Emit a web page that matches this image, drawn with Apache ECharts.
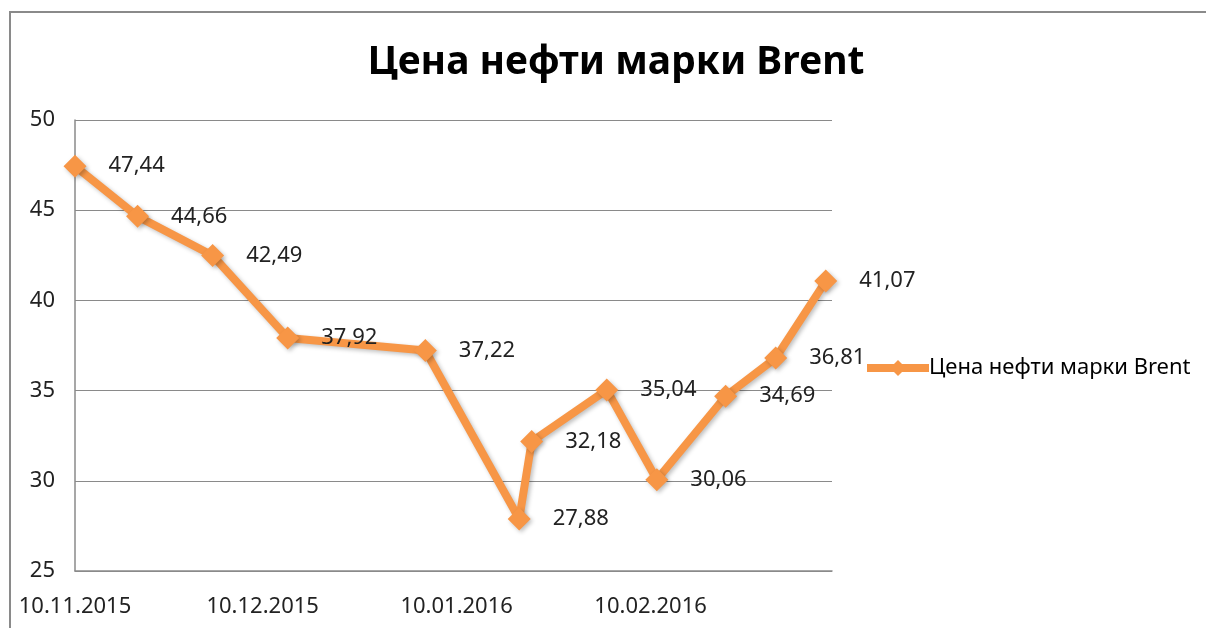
<!DOCTYPE html>
<html>
<head>
    <meta charset="utf-8">
    <title>Цена нефти марки Brent</title>
    <script src="https://cdn.jsdelivr.net/npm/echarts@6.0.0/dist/echarts.min.js"></script>
    <style>
        html, body { margin: 0; padding: 0; background: #fff; }
        #chart { width: 1206px; height: 628px; }
    </style>
</head>
<body>
    <div id="chart"></div>
    <script>
        // данные
        const seriesName = 'Цена нефти марки Brent';
        const dates = ['2015-11-10', '2015-11-20', '2015-12-02', '2015-12-14', '2016-01-05', '2016-01-20',
                       '2016-01-22', '2016-02-03', '2016-02-11', '2016-02-22', '2016-03-01', '2016-03-09'];
        const prices = [47.44, 44.66, 42.49, 37.92, 37.22, 27.88, 32.18, 35.04, 30.06, 34.69, 36.81, 41.07];
        const tickDates = ['2015-11-10', '2015-12-10', '2016-01-10', '2016-02-10'];
        const startDate = '2015-11-10';
        const endDate = '2016-03-10';

        const font = '"Noto Sans", "DejaVu Sans", sans-serif';
        const orange = '#F79646';
        const DAY = 86400000;

        // дни от начальной даты (ось — число дней)
        function utc(s) {
            return Date.UTC(+s.slice(0, 4), +s.slice(5, 7) - 1, +s.slice(8, 10));
        }
        function toDay(s) {
            return Math.round((utc(s) - utc(startDate)) / DAY);
        }
        function fmtDay(v) {
            const d = new Date(utc(startDate) + Math.round(v) * DAY);
            const p = n => (n < 10 ? '0' : '') + n;
            return p(d.getUTCDate()) + '.' + p(d.getUTCMonth() + 1) + '.' + d.getUTCFullYear();
        }

        const chart = echarts.init(document.getElementById('chart'));
        chart.setOption({
            animation: false,
            title: {
                text: 'Цена нефти марки Brent',
                left: 611, top: 38, textAlign: 'center',
                textStyle: { fontFamily: font, fontSize: 39, fontWeight: 'bold', color: '#000' }
            },
            graphic: [{
                type: 'rect',
                shape: { x: 10, y: 12, width: 1400, height: 800 },
                style: { fill: 'none', stroke: '#8a8a8a', lineWidth: 2 },
                silent: true
            }],
            legend: {
                data: [seriesName],
                left: 858, top: 352,
                itemWidth: 62, itemHeight: 20, itemGap: 0,
                lineStyle: { width: 8 },
                textStyle: { fontFamily: font, fontSize: 22, color: '#000', padding: [0, 0, 0, -5] }
            },
            grid: { left: 75, right: 374, top: 120, bottom: 57 },
            xAxis: {
                type: 'value',
                min: 0,
                max: toDay(endDate),
                axisLine: { show: true, lineStyle: { color: '#8a8a8a', width: 1.5 } },
                axisTick: { show: false },
                splitLine: { show: false },
                axisLabel: {
                    customValues: tickDates.map(toDay),
                    formatter: fmtDay,
                    margin: 25,
                    fontFamily: font, fontSize: 22, color: '#222'
                }
            },
            yAxis: {
                type: 'value',
                min: 25, max: 50, interval: 5,
                axisLine: { show: true, lineStyle: { color: '#8a8a8a', width: 1.5 } },
                axisTick: { show: false },
                splitLine: { lineStyle: { color: '#8a8a8a', width: 1.2 } },
                axisLabel: { margin: 20, fontFamily: font, fontSize: 22, color: '#222' }
            },
            series: [{
                name: seriesName,
                type: 'line',
                data: dates.map((d, i) => [toDay(d), prices[i]]),
                symbol: 'diamond',
                symbolSize: 23,
                showAllSymbol: true,
                itemStyle: { color: orange, shadowColor: 'rgba(0,0,0,0.25)', shadowBlur: 4, shadowOffsetX: 2, shadowOffsetY: 2 },
                lineStyle: { color: orange, width: 8, shadowColor: 'rgba(0,0,0,0.25)', shadowBlur: 4, shadowOffsetX: 2, shadowOffsetY: 2 },
                label: {
                    show: true,
                    position: 'right',
                    distance: 22,
                    formatter: p => p.value[1].toFixed(2).replace('.', ','),
                    fontFamily: font, fontSize: 22, color: '#222'
                }
            }]
        });
    </script>
</body>
</html>
